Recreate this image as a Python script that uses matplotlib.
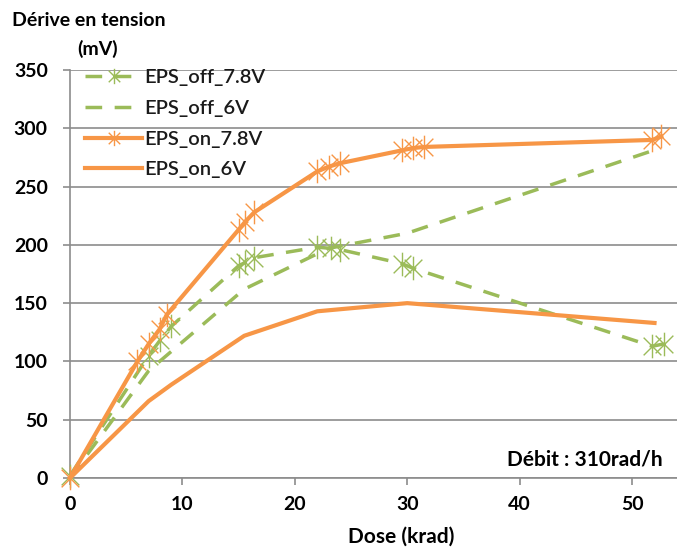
import matplotlib
matplotlib.use("Agg")
import matplotlib.pyplot as plt
from matplotlib.path import Path

## values (dose in krad, drift in mV)
dose_off78 = [0, 7, 8, 9, 15, 15.6, 16.4, 22, 23.2, 24, 29.5, 30.5, 51.8, 52.8]
off78 = [2, 105, 118, 130, 182, 185, 189, 198, 197, 196, 184, 180, 113, 115]

dose_off6 = [0, 7, 15.5, 23, 30, 52.5]
off6 = [0, 92, 162, 197, 210, 283]

dose_on78 = [0, 6, 7, 8, 8.6, 15, 15.6, 16.4, 22, 23, 24, 29.5, 30.5, 31.5, 51.8, 52.6]
on78 = [0, 100, 115, 128, 140, 213, 220, 228, 263, 267, 270, 281, 283, 284, 290, 293]

dose_on6 = [0, 7, 9, 15.5, 22, 30, 52]
on6 = [0, 66, 80, 122, 143, 150, 133]

labels = ["EPS_off_7.8V", "EPS_off_6V", "EPS_on_7.8V", "EPS_on_6V"]
xticks = [0, 10, 20, 30, 40, 50]
yticks = [0, 50, 100, 150, 200, 250, 300, 350]

green = "#9BBB59"
orange = "#F79646"
grey = "#8C8C8C"

plt.rcParams["font.family"] = ["Lato", "DejaVu Sans"]

## excel style star marker: vertical bar + an X
star = Path([(0, -1), (0, 1), (-0.75, -0.75), (0.75, 0.75), (-0.75, 0.75), (0.75, -0.75)],
            [Path.MOVETO, Path.LINETO, Path.MOVETO, Path.LINETO, Path.MOVETO, Path.LINETO])

dash = (0, (4.8, 3.6))

fig = plt.figure(figsize=(6.77, 5.49), dpi=100)
ax = fig.add_axes([70 / 677, 1 - 478 / 549, 607 / 677, 408 / 549])

ax.plot(dose_off78, off78, color=green, lw=2.5, ls=dash, marker=star, ms=17,
        mec=green, mew=1.0, label=labels[0], clip_on=False, zorder=3)
ax.plot(dose_off6, off6, color=green, lw=2.5, ls=dash, label=labels[1], clip_on=False, zorder=3)
ax.plot(dose_on78, on78, color=orange, lw=3.0, marker=star, ms=17, mec=orange, mew=1.0,
        label=labels[2], clip_on=False, zorder=4)
ax.plot(dose_on6, on6, color=orange, lw=3.0, label=labels[3], clip_on=False, zorder=4)

ax.set_xlim(0, 54)
ax.set_ylim(0, 350)
ax.set_xticks(xticks)
ax.set_yticks(yticks)
ax.grid(axis="y", color=grey, lw=1.2)
ax.set_axisbelow(True)
for s in ["top", "right"]:
    ax.spines[s].set_visible(False)
for s in ["left", "bottom"]:
    ax.spines[s].set_color(grey)
    ax.spines[s].set_linewidth(1.2)
ax.tick_params(axis="y", length=5, width=1.2, color=grey, pad=11, labelsize=14)
ax.tick_params(axis="x", length=5, width=1.2, color=grey, pad=8, labelsize=14)
for lab in ax.get_xticklabels() + ax.get_yticklabels():
    lab.set_fontweight("bold")

## legend sits inside the plot, top left, no frame
leg = ax.legend(loc="upper left", bbox_to_anchor=(85 / 677, 1 - 69 / 549), bbox_transform=fig.transFigure,
                frameon=False, prop={"size": 14.5, "weight": "semibold"}, handlelength=2.85,
                handletextpad=0.1, labelspacing=0.68, borderpad=0, borderaxespad=0,
                numpoints=1, markerscale=0.65)
for t in leg.get_texts():
    t.set_color("#1a1a1a")

fig.text(12 / 677, 1 - 21 / 549, "Dérive en tension", fontsize=14, fontweight="bold", va="center")
fig.text(77 / 677, 1 - 49 / 549, "(mV)", fontsize=14, fontweight="bold", va="center")
fig.text(401 / 677, 1 - 537 / 549, "Dose (krad)", fontsize=15, fontweight="bold", ha="center", va="center")
fig.text(663 / 677, 1 - 459 / 549, "Débit : 310rad/h", fontsize=15, fontweight="bold", ha="right", va="center")

fig.savefig("out.png", dpi=100)
